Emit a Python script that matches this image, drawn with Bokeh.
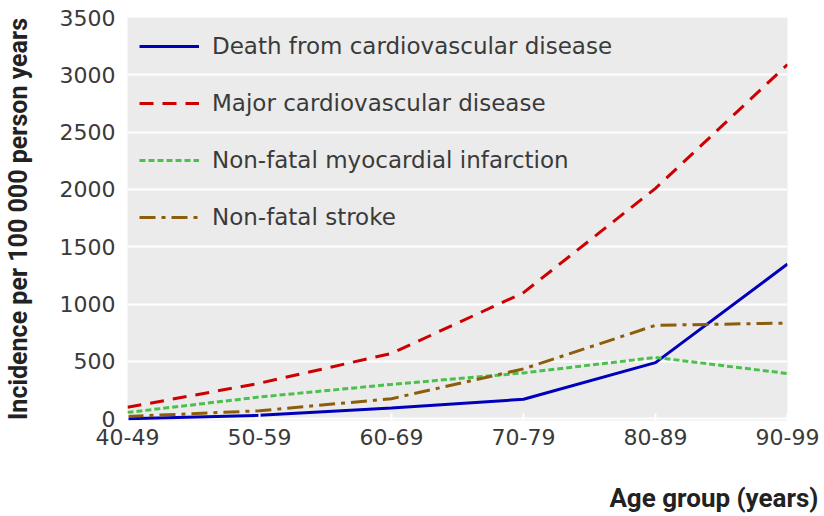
from bokeh.plotting import figure
from bokeh.models import FixedTicker, Legend, LegendItem, Title, Range1d
from bokeh.embed import file_html
from bokeh.resources import INLINE

age_groups = ["40-49", "50-59", "60-69", "70-79", "80-89", "90-99"]
x_idx = list(range(len(age_groups)))
death_cvd = [0, 30, 95, 170, 490, 1350]
major_cvd = [100, 310, 570, 1100, 2010, 3090]
nonfatal_mi = [55, 190, 300, 400, 535, 395]
nonfatal_stroke = [20, 70, 175, 435, 815, 835]
y_ticks = [0, 500, 1000, 1500, 2000, 2500, 3000, 3500]
y_min, y_max = -15, 3500

p = figure(width=824, height=516, output_backend="svg", toolbar_location=None,
           x_range=Range1d(x_idx[0], x_idx[-1]), y_range=Range1d(y_min, y_max),
           min_border_left=120, min_border_top=17, min_border_right=37, min_border_bottom=96)
p.background_fill_color = "#ebebeb"
p.border_fill_color = "white"
p.outline_line_color = None

p.xgrid.grid_line_color = None
p.ygrid.grid_line_color = "white"
p.ygrid.grid_line_width = 2
p.ygrid.ticker = FixedTicker(ticks=y_ticks)

tick_font = "DejaVu Sans"
p.xaxis.ticker = FixedTicker(ticks=x_idx)
p.xaxis.major_label_overrides = {i: s for i, s in zip(x_idx, age_groups)}
p.xaxis.axis_line_color = None
p.xaxis.major_tick_in = 7
p.xaxis.major_tick_out = 0
p.xaxis.major_tick_line_color = "white"
p.xaxis.major_tick_line_width = 2
p.xaxis.minor_tick_line_color = None
p.xaxis.major_label_text_font = tick_font
p.xaxis.major_label_text_font_size = "22px"
p.xaxis.major_label_text_color = "#3a3a3a"
p.xaxis.major_label_standoff = 8

p.yaxis.ticker = FixedTicker(ticks=y_ticks)
p.yaxis.axis_line_color = None
p.yaxis.major_tick_line_color = None
p.yaxis.minor_tick_line_color = None
p.yaxis.major_label_text_font = tick_font
p.yaxis.major_label_text_font_size = "22px"
p.yaxis.major_label_text_color = "#3a3a3a"
p.yaxis.major_label_standoff = 6
p.yaxis.axis_label = "Incidence per 100 000 person years"
p.yaxis.axis_label_text_font = "Roboto"
p.yaxis.axis_label_text_font_style = "bold"
p.yaxis.axis_label_text_font_size = "25px"
p.yaxis.axis_label_text_color = "#222222"
p.yaxis.axis_label_standoff = 24

r1 = p.line(x_idx, death_cvd, line_color="#0000bb", line_width=3)
r2 = p.line(x_idx, major_cvd, line_color="#cc0000", line_width=3, line_dash="14 9")
r3 = p.line(x_idx, nonfatal_mi, line_color="#4cc04c", line_width=3, line_dash="6 3")
r4 = p.line(x_idx, nonfatal_stroke, line_color="#8c5e0c", line_width=3, line_dash="16 6 4 6")

legend = Legend(items=[
    LegendItem(label="Death from cardiovascular disease", renderers=[r1]),
    LegendItem(label="Major cardiovascular disease", renderers=[r2]),
    LegendItem(label="Non-fatal myocardial infarction", renderers=[r3]),
    LegendItem(label="Non-fatal stroke", renderers=[r4]),
], location="top_left")
legend.background_fill_alpha = 0
legend.border_line_color = None
legend.margin = 12
legend.padding = 12
legend.glyph_width = 60
legend.glyph_height = 34
legend.label_height = 20
legend.spacing = 23
legend.label_standoff = 13
legend.label_text_font = tick_font
legend.label_text_font_size = "23px"
legend.label_text_color = "#3a3a3a"
p.add_layout(legend, "center")

# empty spacer panel between the x-axis and its title
spacer = Title(text=" ", text_font_size="1px", standoff=30)
p.add_layout(spacer, "below")

x_title = Title(text="Age group (years)", align="right", offset=-31, standoff=0,
                text_font="Roboto", text_font_style="bold",
                text_font_size="26px", text_color="#222222")
p.add_layout(x_title, "below")

open("out.html", "w").write(file_html(p, INLINE))
